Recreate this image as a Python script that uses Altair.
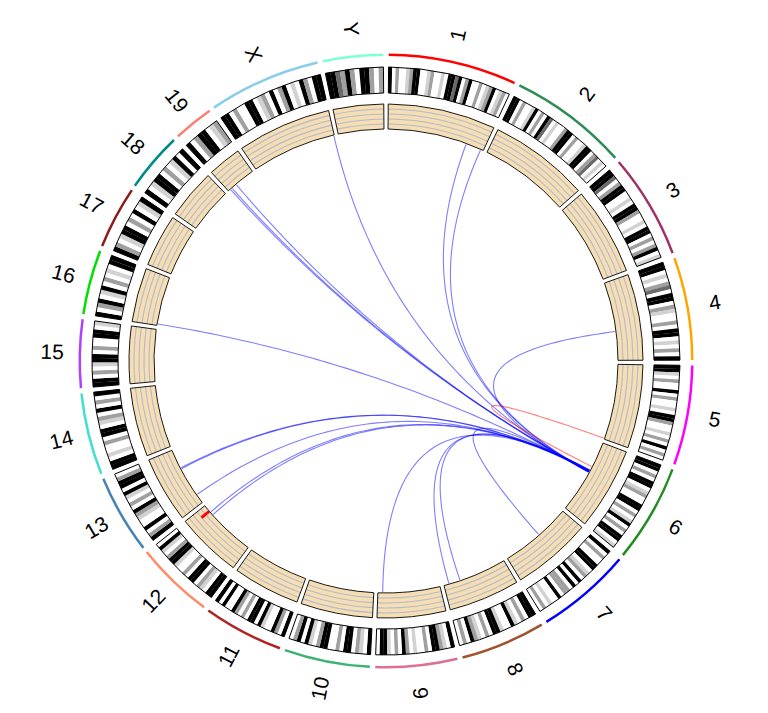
import altair as alt
import numpy as np
import pandas as pd

# ---------------- data ----------------
chroms = ["1", "2", "3", "4", "5", "6", "7", "8", "9", "10", "11", "12", "13",
          "14", "15", "16", "17", "18", "19", "X", "Y"]
lengths_mb = [195.5, 182.1, 160.0, 156.5, 151.8, 149.7, 145.4, 129.4, 124.6, 130.7,
              122.1, 120.1, 120.4, 124.9, 104.0, 98.2, 95.3, 90.7, 61.4, 171.0, 91.7]
chrom_colors = ["#FF0000", "#2E8B57", "#A0306A", "#FFA500", "#FF00FF", "#228B22",
                "#0000FF", "#A0522D", "#DB7093", "#3CB371", "#B22222", "#FF8C69",
                "#4682B4", "#40E0D0", "#B040FF", "#00E000", "#8B1A1A", "#008B8B",
                "#FA8072", "#87CEEB", "#7FFFD4"]
# cytoband stain codes, start -> end of each chromosome (k black, d dark, g grey, l light, w white)
bands = [
    "kwgwwlgkkwwlgwwlwkkdkwgkwwgwlgkwlgw",
    "kkwgwwlkwgwkdwlwwgkkwgwwlkkwgdwlw",
    "kkdwgkkwwlwkkgwwlwkkwgwgkwl",
    "kkwlwgdwkkwglwwgwkkwlwgwk",
    "kklwgwwkwgwwlwkkgwwlwgwkwgw",
    "kkwgwkkwlgwwkkwgwlkwgwkkwl",
    "kwgwwkkwlgwkwkwggwkwwlwgw",
    "kkwgwlkwwlkkwgwlgkwgw",
    "kwlgkkwgwwlwgkwgwlkkw",
    "kwlgwkkwgwwkkgwlkwkgw",
    "kwgkwwlkwkkwgwgkwwkwk",
    "kkwlgwkkwgwwlkkgwlkw",
    "kgwkwwlgkwgwlkwkkgw",
    "kkwlwwgwkkwlgwkwgwk",
    "kkwgwlkkwgwwkkwl",
    "kwgkwlkwgwlwkk",
    "kgwlkkwgwkwlk",
    "kwlkkwgwlkwk",
    "kwgkkwlg",
    "kkwgwwkkwlgwkwgkwlwkgwkk",
    "kkdgkgwkkgwg",
]
stain_colors = {"k": "#000000", "d": "#6a6a6a", "g": "#a0a0a0", "l": "#d2d2d2", "w": "#ffffff"}

# links (Mb positions)
link_src_chr = ["6"] * 17 + ["5"]
link_src_pos = [64, 63, 65, 63, 62, 64, 62, 61, 62, 63, 61, 62, 60, 60, 61, 62, 64, 150]
link_dst_chr = ["1", "1", "X", "19", "19", "19", "16", "13", "13", "13", "12", "12",
                "9", "8", "8", "7", "4", "6"]
link_dst_pos = [159, 190, 170, 5, 9, 20, 3, 79, 81, 19, 103, 96, 115, 119, 96, 67, 99, 52]
link_color = ["#0000FF"] * 17 + ["#FF0000"]

# red data bar in the track
bar_chr = ["12"]
bar_pos = [106]

# ---------------- layout ----------------
W, H = 740, 684
GAP = 1.0
deg_per_mb = (360 - GAP * len(chroms)) / sum(lengths_mb)
starts = []
a = GAP / 2
for L in lengths_mb:
    starts.append(a)
    a += L * deg_per_mb + GAP
cidx = {c: i for i, c in enumerate(chroms)}


def ang(c, pos):
    return starts[cidx[c]] + pos * deg_per_mb


R_OUT = (305.0, 307.5)
R_IDEO = (268.0, 294.0)
R_TRACK = (232.0, 257.0)
R_LINK = 231.0
R_LABEL = 334.0

outer_rows, band_rows, ideo_rows, track_rows, grid_rows, label_rows = [], [], [], [], [], []
for i, c in enumerate(chroms):
    a0 = starts[i]
    a1 = a0 + lengths_mb[i] * deg_per_mb
    t0, t1 = np.deg2rad(a0), np.deg2rad(a1)
    outer_rows.append(dict(t0=t0, t1=t1, r0=R_OUT[0], r1=R_OUT[1], fill=chrom_colors[i]))
    ideo_rows.append(dict(t0=t0, t1=t1, r0=R_IDEO[0], r1=R_IDEO[1]))
    track_rows.append(dict(t0=t0, t1=t1, r0=R_TRACK[0], r1=R_TRACK[1]))
    s = bands[i]
    n = len(s)
    for j, ch in enumerate(s):
        b0 = a0 + (a1 - a0) * j / n
        b1 = a0 + (a1 - a0) * (j + 1) / n
        band_rows.append(dict(t0=np.deg2rad(b0), t1=np.deg2rad(b1) + 0.0005,
                              r0=R_IDEO[0], r1=R_IDEO[1], fill=stain_colors[ch]))
    for k in range(1, 5):
        rr = R_TRACK[0] + k * (R_TRACK[1] - R_TRACK[0]) / 5
        grid_rows.append(dict(t0=t0, t1=t1, r0=rr - 0.55, r1=rr + 0.55))
    mid = (a0 + a1) / 2
    th = np.deg2rad(mid)
    rot = mid - 90 if mid <= 180 else mid - 270
    label_rows.append(dict(x=R_LABEL * np.sin(th), y=R_LABEL * np.cos(th),
                           text=c, rot=rot % 360))

bar_rows = []
for c, p in zip(bar_chr, bar_pos):
    aa = ang(c, p)
    bar_rows.append(dict(t0=np.deg2rad(aa - 0.35), t1=np.deg2rad(aa + 0.35),
                         r0=R_TRACK[0], r1=R_TRACK[0] + 10))

link_rows = []
tt = np.linspace(0, 1, 80)
for lid, (sc, sp, dc, dp, col) in enumerate(zip(link_src_chr, link_src_pos,
                                                 link_dst_chr, link_dst_pos, link_color)):
    th0 = np.deg2rad(ang(sc, sp))
    th1 = np.deg2rad(ang(dc, dp))
    p0 = np.array([R_LINK * np.sin(th0), R_LINK * np.cos(th0)])
    p2 = np.array([R_LINK * np.sin(th1), R_LINK * np.cos(th1)])
    for k, t in enumerate(tt):
        pt = (1 - t) ** 2 * p0 + t ** 2 * p2  # control point at the centre
        link_rows.append(dict(id=lid, k=k, x=pt[0], y=pt[1], col=col))

outer_df = pd.DataFrame(outer_rows)
band_df = pd.DataFrame(band_rows)
ideo_df = pd.DataFrame(ideo_rows)
track_df = pd.DataFrame(track_rows)
grid_df = pd.DataFrame(grid_rows)
bar_df = pd.DataFrame(bar_rows)
link_df = pd.DataFrame(link_rows)
label_df = pd.DataFrame(label_rows)

xs = alt.Scale(domain=[-W / 2, W / 2], nice=False, zero=False)
ys = alt.Scale(domain=[-H / 2, H / 2], nice=False, zero=False)


def arc_enc():
    return dict(theta=alt.Theta("t0:Q", scale=None), theta2="t1:Q",
                radius=alt.Radius("r0:Q", scale=None), radius2="r1:Q")


outer = alt.Chart(outer_df).mark_arc(padAngle=0).encode(
    color=alt.Color("fill:N", scale=None), **arc_enc())
band_layer = alt.Chart(band_df).mark_arc(padAngle=0).encode(
    color=alt.Color("fill:N", scale=None), **arc_enc())
ideo_outline = alt.Chart(ideo_df).mark_arc(fillOpacity=0, stroke="black", strokeWidth=1).encode(**arc_enc())
track_fill = alt.Chart(track_df).mark_arc(fill="#F5DEB3").encode(**arc_enc())
grid = alt.Chart(grid_df).mark_arc(fill="#B4B9CC").encode(**arc_enc())
track_outline = alt.Chart(track_df).mark_arc(fillOpacity=0, stroke="black", strokeWidth=0.9).encode(**arc_enc())
bar = alt.Chart(bar_df).mark_arc(fill="#FF0000").encode(**arc_enc())

links = alt.Chart(link_df).mark_line(strokeWidth=1.1, opacity=0.5).encode(
    x=alt.X("x:Q", scale=xs, axis=None),
    y=alt.Y("y:Q", scale=ys, axis=None),
    detail="id:N",
    order="k:Q",
    color=alt.Color("col:N", scale=None),
)

labels = alt.Chart(label_df).mark_text(font="Liberation Sans", fontSize=21, color="black",
                                       align="center", baseline="middle").encode(
    x=alt.X("x:Q", scale=xs, axis=None),
    y=alt.Y("y:Q", scale=ys, axis=None),
    text="text:N",
    angle=alt.Angle("rot:Q", scale=None),
)

chart = alt.layer(outer, band_layer, ideo_outline, track_fill, grid, track_outline, bar,
                  links, labels).properties(
    width=W, height=H,
    padding={"left": 8, "top": 11, "right": 0, "bottom": 0},
    autosize=alt.AutoSizeParams(type="none"),
).configure(
    background="white",
    view=alt.ViewConfig(strokeWidth=0, strokeOpacity=0),
)

chart.save("out.html", embed_options={"renderer": "svg", "actions": False})
